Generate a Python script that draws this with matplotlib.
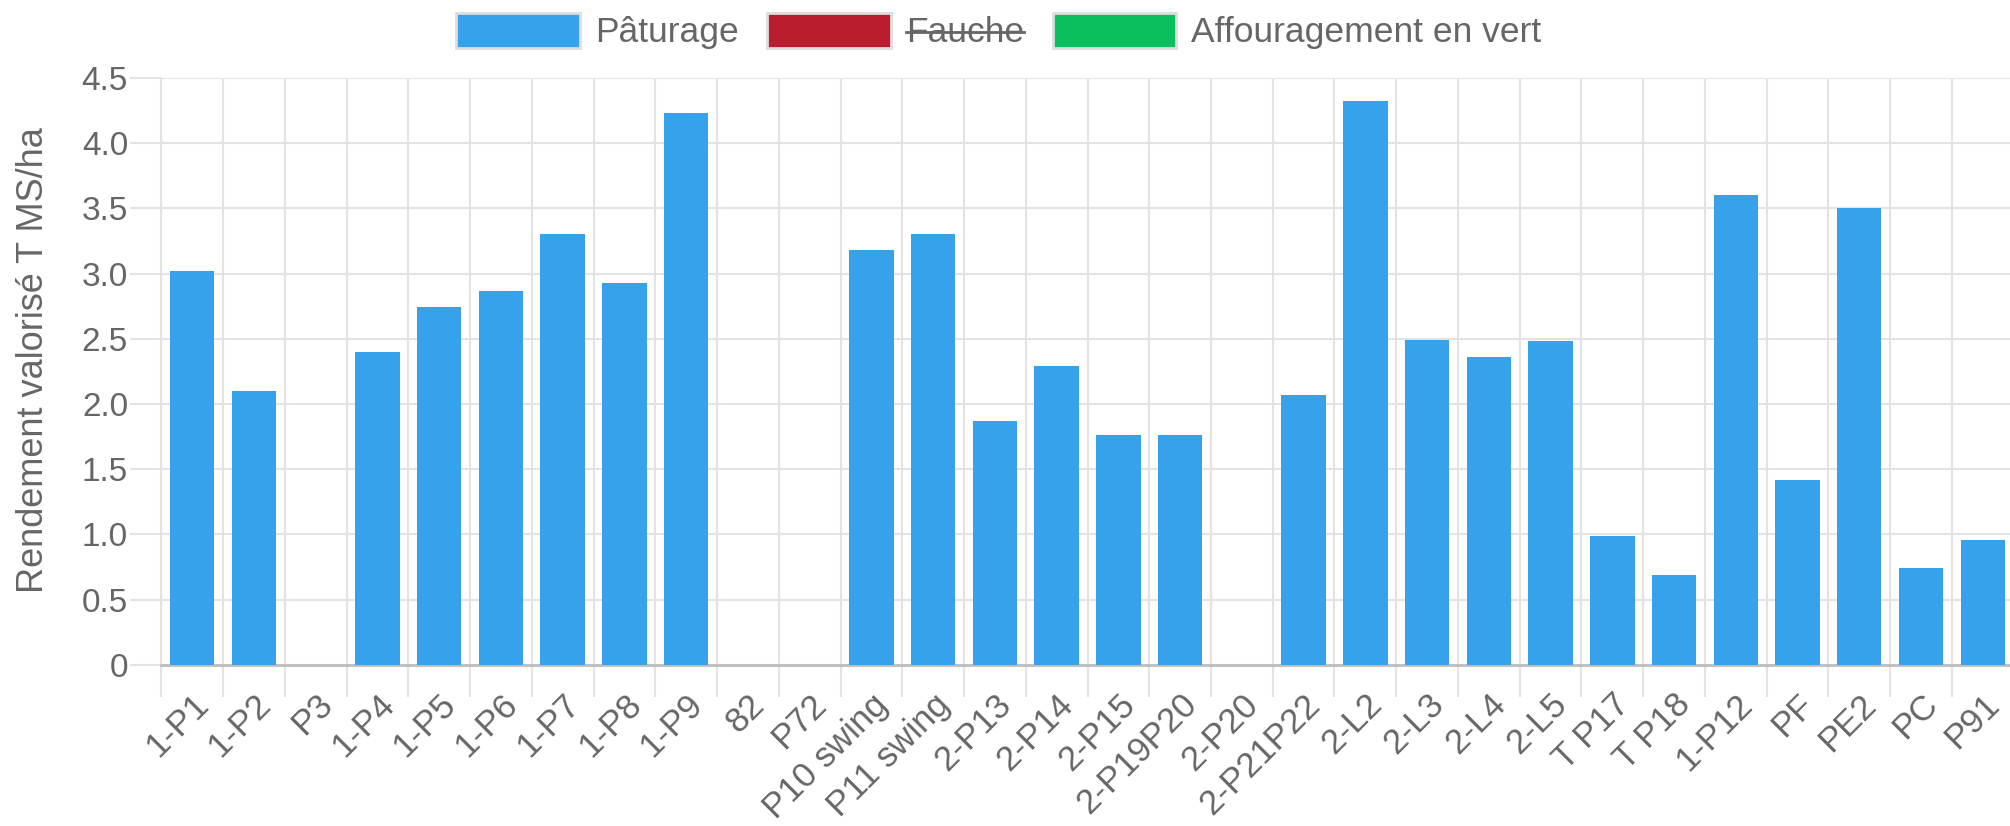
import matplotlib.pyplot as plt
import numpy as np
from matplotlib.patches import Rectangle
from matplotlib.lines import Line2D
from matplotlib.transforms import ScaledTranslation

plt.rcParams['font.family'] = ['Liberation Sans', 'DejaVu Sans']

parcelles = ["1-P1", "1-P2", "P3", "1-P4", "1-P5", "1-P6", "1-P7", "1-P8", "1-P9",
             "82", "P72", "P10 swing", "P11 swing", "2-P13", "2-P14", "2-P15",
             "2-P19P20", "2-P20", "2-P21P22", "2-L2", "2-L3", "2-L4", "2-L5",
             "T P17", "T P18", "1-P12", "PF", "PE2", "PC", "P91"]
paturage = [3.02, 2.10, 0, 2.40, 2.74, 2.87, 3.30, 2.93, 4.23,
            0, 0, 3.18, 3.30, 1.87, 2.29, 1.76,
            1.76, 0, 2.07, 4.32, 2.49, 2.36, 2.48,
            0.99, 0.69, 3.60, 1.42, 3.50, 0.74, 0.96]
series = ["Pâturage", "Fauche", "Affouragement en vert"]
couleurs = ["#36A2EB", "#B91D2E", "#0BBF5F"]

gris = "#666666"
grille = "#e3e3e3"

fig = plt.figure(figsize=(20.1, 8.26), dpi=100)
ax = fig.add_axes([0.0803, 0.195, 0.9215, 0.7107])

x = np.arange(len(parcelles))
ax.bar(x, paturage, width=0.72, color=couleurs[0], zorder=3)

ax.set_xlim(-0.5, len(parcelles) - 0.5)
ax.set_ylim(0, 4.5)
ax.set_yticks(np.arange(0, 4.51, 0.5))
ax.set_yticklabels(["0"] + ["%.1f" % v for v in np.arange(0.5, 4.51, 0.5)])

ax.set_xticks(x)
ax.set_xticklabels(parcelles, rotation=45, ha="right", rotation_mode="anchor")
ax.set_xticks(np.arange(-0.5, len(parcelles), 1), minor=True)
decalage = ScaledTranslation(-0.20, 0, fig.dpi_scale_trans)
for lab in ax.get_xticklabels():
    lab.set_transform(lab.get_transform() + decalage)

ax.grid(False)
ax.grid(True, which="minor", axis="x", color=grille, lw=1.5, zorder=0)
ax.grid(True, which="major", axis="y", color=grille, lw=1.5, zorder=0)

ax.tick_params(axis="x", which="major", length=0, pad=16.5, labelsize=25, labelcolor=gris)
ax.tick_params(axis="x", which="minor", length=23, width=1.5, color=grille)
ax.tick_params(axis="y", length=22, width=1.5, color=grille, pad=2,
               labelsize=24, labelcolor=gris)

for s in ["top", "right"]:
    ax.spines[s].set_visible(False)
ax.spines["left"].set_color(grille)
ax.spines["left"].set_linewidth(1.5)
ax.spines["bottom"].set_color("#bdbdbd")
ax.spines["bottom"].set_linewidth(2)

ax.set_ylabel("Rendement valorisé T MS/ha", fontsize=26, color=gris)
ax.yaxis.set_label_coords(-0.0597, 0.52)

handles = [Rectangle((0, 0), 1, 1, facecolor=c, edgecolor="#dddddd", lw=2) for c in couleurs]
leg = fig.legend(handles, series, loc="center", bbox_to_anchor=(0.497, 1 - 31 / 826),
                 ncol=3, frameon=False, fontsize=25.5, labelcolor=gris,
                 handlelength=3.5, handleheight=1.15, handletextpad=0.42,
                 columnspacing=0.8, borderaxespad=0)

fig.canvas.draw()
renderer = fig.canvas.get_renderer()
bb = leg.get_texts()[1].get_window_extent(renderer)
ymid = (bb.y0 + bb.y1) / 2 + 1
fig.add_artist(Line2D([bb.x0 / fig.bbox.width, bb.x1 / fig.bbox.width],
                      [ymid / fig.bbox.height, ymid / fig.bbox.height],
                      color=gris, lw=2, transform=fig.transFigure))

plt.savefig("out.png", dpi=100)
